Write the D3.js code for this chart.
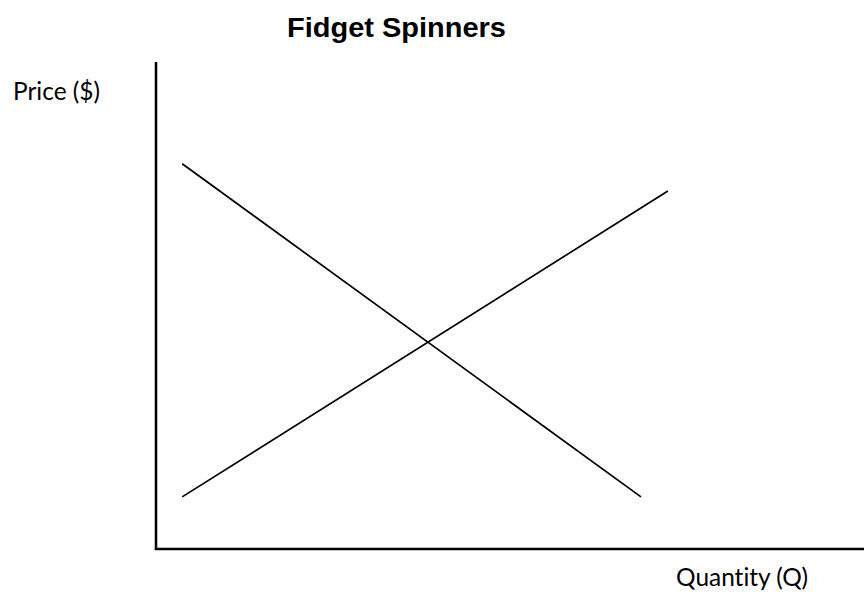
<!DOCTYPE html>
<html>
<head>
<meta charset="utf-8">
<script src="https://cdn.jsdelivr.net/npm/d3@7"></script>
<style>
  html, body { margin: 0; padding: 0; background: #fff; }
  svg { display: block; }
  text { font-variant-ligatures: none; font-feature-settings: "liga" 0, "clig" 0; }
</style>
</head>
<body>
<svg id="chart" width="864" height="592"></svg>
<script>
// ---- Data (abstract units, 0..100 on each axis) ----
const titleText = "Fidget Spinners";
const yAxisLabel = "Price ($)";
const xAxisLabel = "Quantity (Q)";
const demandQ = [3.7, 68.5];
const demandP = [79.1, 10.7];
const supplyQ = [3.7, 72.3];
const supplyP = [10.7, 73.5];

const svg = d3.select("#chart");
const x = d3.scaleLinear().domain([0, 100]).range([156, 864]);
const y = d3.scaleLinear().domain([0, 100]).range([549, 62]);

// axes
svg.append("line")
  .attr("x1", x(0)).attr("y1", y(100)).attr("x2", x(0)).attr("y2", y(0) + 1)
  .attr("stroke", "#000").attr("stroke-width", 2.5);
svg.append("line")
  .attr("x1", x(0) - 1.2).attr("y1", y(0)).attr("x2", x(100)).attr("y2", y(0))
  .attr("stroke", "#000").attr("stroke-width", 2.5);

const line = d3.line().x(d => x(d[0])).y(d => y(d[1]));
const demand = demandQ.map((q, i) => [q, demandP[i]]);
const supply = supplyQ.map((q, i) => [q, supplyP[i]]);

svg.append("path").attr("d", line(demand))
  .attr("fill", "none").attr("stroke", "#000").attr("stroke-width", 1.7);
svg.append("path").attr("d", line(supply))
  .attr("fill", "none").attr("stroke", "#000").attr("stroke-width", 1.7);

// title
svg.append("text")
  .attr("x", 396.5).attr("y", 37)
  .attr("text-anchor", "middle")
  .attr("font-family", "'Liberation Sans', Arial, sans-serif")
  .attr("font-weight", "bold")
  .attr("font-size", 28.5)
  .attr("textLength", 219).attr("lengthAdjust", "spacingAndGlyphs")
  .text(titleText);

// axis labels
svg.append("text")
  .attr("x", 13).attr("y", 100)
  .attr("font-family", "Lato, 'Open Sans', sans-serif")
  .attr("font-size", 25)
  .attr("textLength", 87).attr("lengthAdjust", "spacingAndGlyphs")
  .text(yAxisLabel);

svg.append("text")
  .attr("x", 676).attr("y", 586)
  .attr("font-family", "Lato, 'Open Sans', sans-serif")
  .attr("font-size", 25)
  .attr("textLength", 132).attr("lengthAdjust", "spacingAndGlyphs")
  .text(xAxisLabel);
</script>
</body>
</html>
